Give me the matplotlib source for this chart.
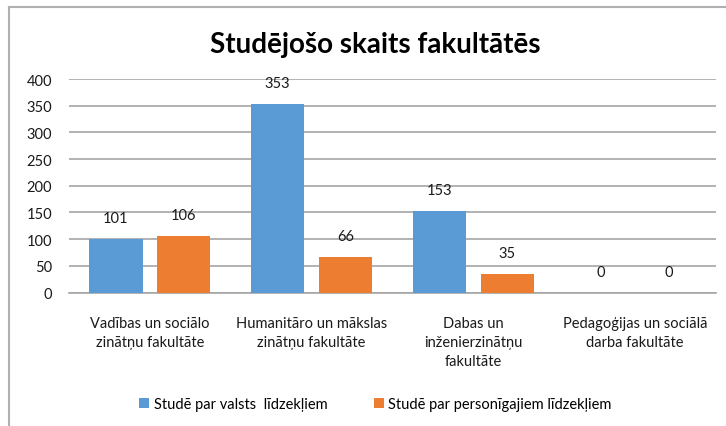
import matplotlib.pyplot as plt
import numpy as np
from matplotlib.lines import Line2D

plt.rcParams['font.family'] = ['Lato', 'DejaVu Sans']

# Data
categories = [
    "Vadības un sociālo\nzinātņu fakultāte",
    "Humanitāro un mākslas\nzinātņu fakultāte",
    "Dabas un\ninženierzinātņu\nfakultāte",
    "Pedagoģijas un sociālā\ndarba fakultāte",
]
state_funded = [101, 353, 153, 0]
self_funded = [106, 66, 35, 0]
series_names = ["Studē par valsts  līdzekļiem", "Studē par personīgajiem līdzekļiem"]
title = "Studējošo skaits fakultātēs"

fig = plt.figure(figsize=(7.26, 4.27), dpi=100)
ax = fig.add_axes([0.095, 0.3126, 0.891, 0.5])

x = np.arange(len(categories))
w = 0.33
b1 = ax.bar(x - 0.21, state_funded, w, color="#5b9bd5", label=series_names[0], zorder=3)
b2 = ax.bar(x + 0.21, self_funded, w, color="#ed7d31", label=series_names[1], zorder=3)

for bars in (b1, b2):
    ax.bar_label(bars, padding=10, fontsize=10.5, color="#1a1a1a")

ax.set_xlim(-0.5, len(categories) - 0.5)
ax.set_ylim(0, 400)
ax.set_yticks(range(0, 401, 50))
ax.yaxis.grid(True, color="#a6a6a6", linewidth=1.2, zorder=0)
ax.set_axisbelow(True)
for side in ("top", "right", "left"):
    ax.spines[side].set_visible(False)
ax.spines["bottom"].set_color("#a6a6a6")
ax.spines["bottom"].set_linewidth(1.2)
ax.tick_params(axis="y", length=0, pad=12, labelsize=10.5, labelcolor="#1a1a1a")
ax.tick_params(axis="x", length=0, pad=17, labelsize=10.5, labelcolor="#1a1a1a")
ax.set_xticks(x)
ax.set_xticklabels(categories, linespacing=1.45, va="top")

fig.text(0.517, 0.895, title, ha="center", va="center", fontsize=20, fontweight="bold")

fig.legend(handles=[b1, b2], loc="center", bbox_to_anchor=(0.517, 0.052), ncol=2,
           frameon=False, fontsize=10.5, handlelength=0.7, handleheight=0.7,
           handletextpad=0.3, columnspacing=3.2)

# chart frame
fig.add_artist(Line2D([9 / 726, 9 / 726], [0, 1 - 8 / 427], color="#b0b0b0", lw=1.5))
fig.add_artist(Line2D([9 / 726, 1], [1 - 8 / 427, 1 - 8 / 427], color="#b0b0b0", lw=1.5))

fig.savefig("out.png", dpi=100)
